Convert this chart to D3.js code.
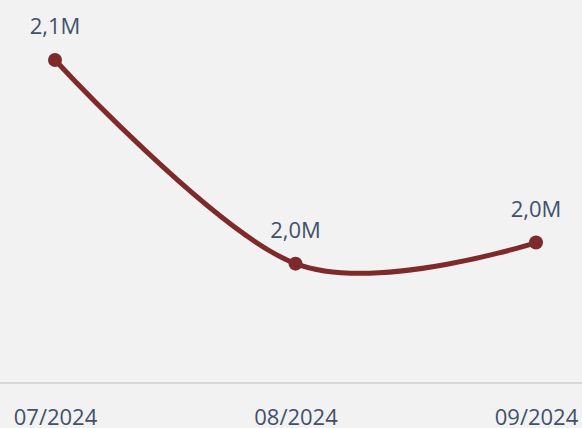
<!DOCTYPE html>
<html>
<head>
<meta charset="utf-8">
<script src="https://cdn.jsdelivr.net/npm/d3@7"></script>
<style>
  html, body { margin: 0; padding: 0; background: #f2f2f2; }
  svg { display: block; }
  text { font-family: "Open Sans", sans-serif; fill: #3f516b; }
</style>
</head>
<body>
<div id="chart"></div>
<script>
// data
const months = ['07/2024', '08/2024', '09/2024'];
const values = [2.10, 1.955, 1.97];          // millions
const labels = ['2,1M', '2,0M', '2,0M'];

const width = 582;
const height = 428;
const margin = ({top: 60, right: 46, bottom: 45, left: 55});

const svg = d3.select('#chart')
    .append('svg')
    .attr('width', width)
    .attr('height', height);

svg.append('rect')
    .attr('width', width)
    .attr('height', height)
    .attr('fill', '#f2f2f2');

const xScale = d3.scalePoint()
    .domain(months)
    .range([margin.left, width - margin.right]);

const yScale = d3.scaleLinear()
    .domain([1.87, 2.10])
    .range([height - margin.bottom, margin.top]);

// x axis
const xAxis = d3.axisBottom(xScale)
    .tickSize(0)
    .tickPadding(26);

const gx = svg.append('g')
    .attr('class', 'axis x-axis')
    .attr('transform', 'translate(0,' + yScale(1.87) + ')')
    .call(xAxis);

gx.select('.domain').remove();
gx.append('line')
    .attr('x1', 0)
    .attr('x2', width)
    .attr('stroke', '#d9d9d9')
    .attr('stroke-width', 2);
gx.selectAll('.tick text')
    .attr('font-size', 22)
    .attr('font-family', '"Open Sans", sans-serif')
    .attr('fill', '#3f516b');

const pts = months.map((m, i) => ({month: m, value: values[i], label: labels[i]}));

const line = d3.line()
    .x(d => xScale(d.month))
    .y(d => yScale(d.value))
    .curve(d3.curveCardinal.tension(0));

svg.append('path')
    .datum(pts)
    .attr('fill', 'none')
    .attr('stroke', '#7f2a2a')
    .attr('stroke-width', 5)
    .attr('stroke-linecap', 'round')
    .attr('d', line);

svg.selectAll('.dot')
    .data(pts)
    .join('circle')
    .attr('class', 'dot')
    .attr('cx', d => xScale(d.month))
    .attr('cy', d => yScale(d.value))
    .attr('r', 7)
    .attr('fill', '#7f2a2a');

svg.selectAll('.lbl')
    .data(pts)
    .join('text')
    .attr('class', 'lbl')
    .attr('x', d => xScale(d.month))
    .attr('y', d => yScale(d.value) - 26)
    .attr('text-anchor', 'middle')
    .attr('font-size', 22)
    .text(d => d.label);
</script>
</body>
</html>
